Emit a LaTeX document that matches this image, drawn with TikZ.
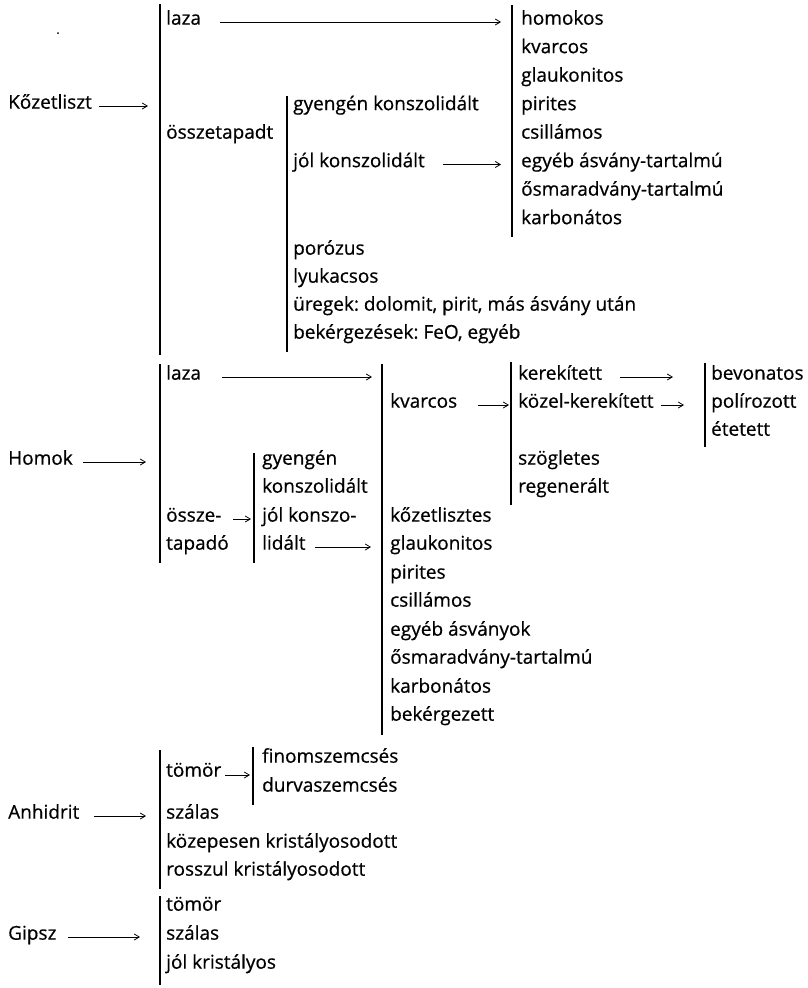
\documentclass[tikz,border=0pt]{standalone}
\usepackage{fontspec}
\setmainfont{Open Sans}[FakeBold=0.6]
\usetikzlibrary{arrows.meta}
\frenchspacing
\begin{document}
\begin{tikzpicture}[x=1pt,y=-1pt,
  lbl/.style={anchor=mid west, inner sep=0pt, font=\fontsize{19}{21}\selectfont},
  bar/.style={line width=1.3pt},
  arr/.style={line width=0.8pt,-{Straight Barb[length=5pt,width=6pt]}}]
\useasboundingbox (0,0) rectangle (807,988);
\fill[white] (0,0) rectangle (807,988);
\fill (58,33) circle (1pt);

% ---------- Kőzetliszt ----------
\node[lbl] (kl) at (8,106) {Kőzetliszt};
\coordinate (b1t) at (160,4);   \coordinate (b1b) at (160,355);
\coordinate (b2t) at (512,5);   \coordinate (b2b) at (512,237);
\coordinate (b3t) at (287,96);  \coordinate (b3b) at (287,352);
\draw[bar] (b1t) -- (b1b);
\draw[bar] (b2t) -- (b2b);
\draw[bar] (b3t) -- (b3b);

\node[lbl] (kla) at (166,22) {laza};
\node[lbl] (klo) at (166,136) {összetapadt};
\node[lbl] (kgy) at (293,107.5) {gyengén konszolidált};
\node[lbl] (kjo) at (293,164.5) {jól konszolidált};
\node[lbl] (kpo) at (293,252) {porózus};
\node[lbl] (kly) at (293,280) {lyukacsos};
\node[lbl] (kur) at (293,308) {üregek: dolomit, pirit, más ásvány után};
\node[lbl] (kbe) at (293,336) {bekérgezések: FeO, egyéb};

\node[lbl] (r1) at (521,22) {homokos};
\node[lbl] (r2) at (521,50.5) {kvarcos};
\node[lbl] (r3) at (521,79) {glaukonitos};
\node[lbl] (r4) at (521,107.5) {pirites};
\node[lbl] (r5) at (521,136) {csillámos};
\node[lbl] (r6) at (521,164.5) {egyéb ásvány-tartalmú};
\node[lbl] (r7) at (521,193) {ősmaradvány-tartalmú};
\node[lbl] (r8) at (521,221.5) {karbonátos};

\coordinate (a1s) at (99,106);  \coordinate (a1e) at (148,106);
\coordinate (a2s) at (220,22);  \coordinate (a2e) at (501,22);
\coordinate (a3s) at (443,164.5); \coordinate (a3e) at (501,164.5);
\draw[arr] (a1s) -- (a1e);
\draw[arr] (a2s) -- (a2e);
\draw[arr] (a3s) -- (a3e);

% ---------- Homok ----------
\node[lbl] (ho) at (8,462) {Homok};
\coordinate (b4t) at (160,364); \coordinate (b4b) at (160,563);
\coordinate (b5t) at (382,364); \coordinate (b5b) at (382,735);
\coordinate (b6t) at (511,362); \coordinate (b6b) at (511,505);
\coordinate (b7t) at (705,363); \coordinate (b7b) at (705,447);
\coordinate (b8t) at (254,453); \coordinate (b8b) at (254,563);
\draw[bar] (b4t) -- (b4b);
\draw[bar] (b5t) -- (b5b);
\draw[bar] (b6t) -- (b6b);
\draw[bar] (b7t) -- (b7b);
\draw[bar] (b8t) -- (b8b);

\node[lbl] (hla) at (166,377) {laza};
\node[lbl] (ho1) at (166,519) {össze-};
\node[lbl] (ho2) at (166,547) {tapadó};
\node[lbl] (hg1) at (262,462) {gyengén};
\node[lbl] (hg2) at (262,490) {konszolidált};
\node[lbl] (hj1) at (262,519) {jól konszo-};
\node[lbl] (hj2) at (262,547) {lidált};

\node[lbl] (hkv) at (390,405) {kvarcos};
\node[lbl] (hk1) at (390,519) {kőzetlisztes};
\node[lbl] (hk2) at (390,547) {glaukonitos};
\node[lbl] (hk3) at (390,576) {pirites};
\node[lbl] (hk4) at (390,604) {csillámos};
\node[lbl] (hk5) at (390,633) {egyéb ásványok};
\node[lbl] (hk6) at (390,661) {ősmaradvány-tartalmú};
\node[lbl] (hk7) at (390,690) {karbonátos};
\node[lbl] (hk8) at (390,718) {bekérgezett};

\node[lbl] (hs1) at (518,377) {kerekített};
\node[lbl] (hs2) at (518,405) {közel-kerekített};
\node[lbl] (hs3) at (518,462) {szögletes};
\node[lbl] (hs4) at (518,490) {regenerált};

\node[lbl] (hb1) at (711,377) {bevonatos};
\node[lbl] (hb2) at (711,405) {polírozott};
\node[lbl] (hb3) at (711,433) {étetett};

\coordinate (a4s) at (83,462);  \coordinate (a4e) at (146,462);
\coordinate (a5s) at (222,377); \coordinate (a5e) at (372,377);
\coordinate (a6s) at (233,519); \coordinate (a6e) at (251,519);
\coordinate (a7s) at (315,547); \coordinate (a7e) at (371,547);
\coordinate (a8s) at (478,405); \coordinate (a8e) at (509,405);
\coordinate (a9s) at (620,377); \coordinate (a9e) at (673,377);
\coordinate (a10s) at (661,405); \coordinate (a10e) at (684,405);
\draw[arr] (a4s) -- (a4e);
\draw[arr] (a5s) -- (a5e);
\draw[arr] (a6s) -- (a6e);
\draw[arr] (a7s) -- (a7e);
\draw[arr] (a8s) -- (a8e);
\draw[arr] (a9s) -- (a9e);
\draw[arr] (a10s) -- (a10e);

% ---------- Anhidrit ----------
\node[lbl] (an) at (8,816) {Anhidrit};
\coordinate (b9t) at (160,750);  \coordinate (b9b) at (160,889);
\coordinate (b10t) at (253,747); \coordinate (b10b) at (253,805);
\draw[bar] (b9t) -- (b9b);
\draw[bar] (b10t) -- (b10b);
\node[lbl] (at) at (166,774) {tömör};
\node[lbl] (af) at (262,760) {finomszemcsés};
\node[lbl] (ad) at (262,789) {durvaszemcsés};
\node[lbl] (as) at (166,816) {szálas};
\node[lbl] (ak) at (166,845) {közepesen kristályosodott};
\node[lbl] (ar) at (166,873) {rosszul kristályosodott};
\coordinate (a11s) at (94,816);  \coordinate (a11e) at (146,816);
\coordinate (a12s) at (225,775); \coordinate (a12e) at (250,775);
\draw[arr] (a11s) -- (a11e);
\draw[arr] (a12s) -- (a12e);

% ---------- Gipsz ----------
\node[lbl] (gi) at (8,937) {Gipsz};
\coordinate (b11t) at (160,896); \coordinate (b11b) at (160,985);
\draw[bar] (b11t) -- (b11b);
\node[lbl] (gt) at (166,908) {tömör};
\node[lbl] (gs) at (166,937) {szálas};
\node[lbl] (gj) at (166,966) {jól kristályos};
\coordinate (a13s) at (68,937);  \coordinate (a13e) at (140,937);
\draw[arr] (a13s) -- (a13e);
\end{tikzpicture}
\end{document}
